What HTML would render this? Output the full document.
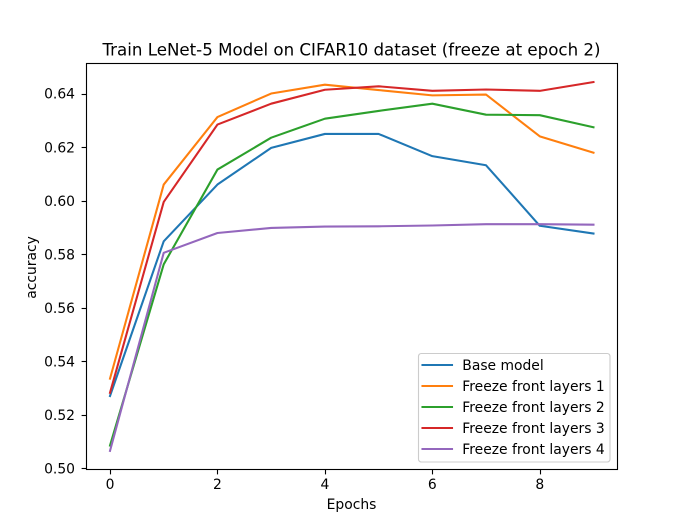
<!DOCTYPE html>
<html>
<head>
<meta charset="utf-8">
<title>Train LeNet-5 Model on CIFAR10 dataset</title>
<style>
html,body{margin:0;padding:0;background:#fff;width:686px;height:527px;overflow:hidden}
svg{display:block}
text{font-family:"DejaVu Sans",sans-serif;fill:#000}
</style>
</head>
<body>
<svg id="chart" xmlns="http://www.w3.org/2000/svg" width="686" height="527" viewBox="0 0 686 527">
<rect x="0" y="0" width="686" height="527" fill="#fff"/>
<g id="ticks"></g>
<g id="series"></g>
<rect x="86.5" y="63.5" width="531" height="406" fill="none" stroke="#000" stroke-width="1.11"/>
<text x="351.5" y="55.5" font-size="16.67" text-anchor="middle">Train LeNet-5 Model on CIFAR10 dataset (freeze at epoch 2)</text>
<text x="351.5" y="509" font-size="13.89" text-anchor="middle">Epochs</text>
<text transform="translate(36,267.5) rotate(-90)" font-size="13.89" text-anchor="middle">accuracy</text>
<g id="legend">
<rect x="418.5" y="353.5" width="191.5" height="108.5" rx="2.8" ry="2.8" fill="#fff" fill-opacity="0.8" stroke="#ccc" stroke-width="1.11"/>
</g>
</svg>
<script>
const epochs = [0, 1, 2, 3, 4, 5, 6, 7, 8, 9];
const baseModel = [0.5270, 0.5848, 0.6060, 0.6197, 0.6249, 0.6249, 0.6166, 0.6132, 0.5906, 0.5877];
const freeze1 = [0.5335, 0.6060, 0.6312, 0.6400, 0.6433, 0.6413, 0.6393, 0.6396, 0.6240, 0.6179];
const freeze2 = [0.5085, 0.5762, 0.6116, 0.6235, 0.6306, 0.6335, 0.6362, 0.6321, 0.6319, 0.6274];
const freeze3 = [0.5282, 0.5995, 0.6284, 0.6362, 0.6414, 0.6427, 0.6410, 0.6415, 0.6410, 0.6443];
const freeze4 = [0.5065, 0.5805, 0.5879, 0.5898, 0.5903, 0.5904, 0.5907, 0.5912, 0.5912, 0.5910];
const seriesNames = ["Base model", "Freeze front layers 1", "Freeze front layers 2", "Freeze front layers 3", "Freeze front layers 4"];
const seriesValues = [baseModel, freeze1, freeze2, freeze3, freeze4];
const seriesColors = ["#1f77b4", "#ff7f0e", "#2ca02c", "#d62728", "#9467bd"];
const xTickValues = [0, 2, 4, 6, 8];
const yTickValues = [0.50, 0.52, 0.54, 0.56, 0.58, 0.60, 0.62, 0.64];

const NS = "http://www.w3.org/2000/svg";
function xScale(v) { return 110 + v * 53.72; }
function yScale(v) { return 468.3 - (v - 0.5) * 2677; }
function make(tag, attrs, parent) {
  const el = document.createElementNS(NS, tag);
  for (const k in attrs) el.setAttribute(k, attrs[k]);
  parent.appendChild(el);
  return el;
}

const ticksG = document.getElementById("ticks");
xTickValues.forEach(function (v) {
  const x = Math.round(xScale(v)) + 0.5;
  const tick = make("line", {x1: x, x2: x, y1: 469.5, y2: 474.4, stroke: "#000", "stroke-width": 1.11}, ticksG);
  
  
  const label = make("text", {x: xScale(v), y: 489, "font-size": 13.89, "text-anchor": "middle"}, ticksG);
  
  
  label.textContent = String(v);
});
yTickValues.forEach(function (v) {
  const y = Math.round(yScale(v)) + 0.5;
  const tick = make("line", {x1: 81.6, x2: 86.5, y1: y, y2: y, stroke: "#000", "stroke-width": 1.11}, ticksG);
  
  
  const label = make("text", {x: 75, y: yScale(v) + 5.2, "font-size": 13.89, "text-anchor": "end"}, ticksG);
  
  
  label.textContent = v.toFixed(2);
});

const seriesG = document.getElementById("series");
seriesValues.forEach(function (vals, i) {
  const pts = vals.map(function (v, j) { return xScale(epochs[j]).toFixed(2) + "," + yScale(v).toFixed(2); }).join(" ");
  const line = make("polyline", {points: pts, fill: "none", stroke: seriesColors[i], "stroke-width": 2.08, "stroke-linejoin": "round", "stroke-linecap": "square"}, seriesG);
  
  
});

const legendG = document.getElementById("legend");
seriesNames.forEach(function (name, i) {
  const y = 365 + i * 21;
  const handle = make("line", {x1: 422.5, x2: 452, y1: y, y2: y, stroke: seriesColors[i], "stroke-width": 2.08, "stroke-linecap": "square"}, legendG);
  
  
  const label = make("text", {x: 462.3, y: y + 5, "font-size": 13.89}, legendG);
  
  
  label.textContent = name;
});
</script>
</body>
</html>
